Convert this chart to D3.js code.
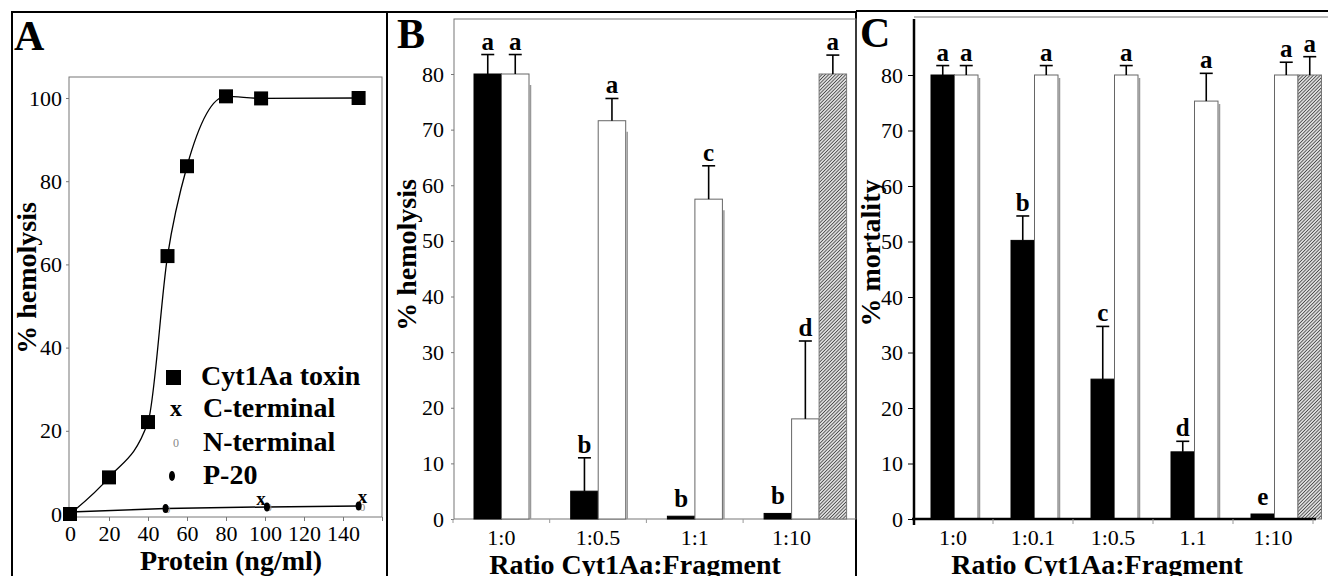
<html>
<body style="margin:0;background:#fff">
<svg width="1328" height="576"></svg>
</body>
<style>
  svg text { font-family: "Liberation Serif", "DejaVu Serif", "Times New Roman", Times, serif !important; fill: #000; }
  .tick text { font-size: 22px; }
  .lbl { font-weight: bold; font-size: 28px; }
  .let { font-weight: bold; font-size: 25px; }
  .panel { font-weight: bold; font-size: 42px; }
</style>
<script src="https://d3js.org/d3.v7.min.js"></script>
<script>
// panel A - hemolysis vs protein
const protein = [0, 20, 40, 50, 60, 80, 98, 148];
const cytToxin = [0, 8.8, 22.1, 62, 83.6, 100.4, 99.9, 100];
const cTermX = [98, 150];
const cTermY = [2.9, 3.4];
const nTermX = [50, 102, 150];
const nTermY = [1.2, 1.6, 1.7];
const p20X = [0, 49, 101, 148];
const p20Y = [0.5, 1.3, 1.7, 1.9];
const legendA = ["Cyt1Aa toxin", "C-terminal", "N-terminal", "P-20"];

// panel B - hemolysis vs ratio
const ratiosB = ["1:0", "1:0.5", "1:1", "1:10"];
const toxinB = [80, 5, 0.5, 1];
const toxinErrB = [3.5, 6, 0, 0];
const toxinLetB = ["a", "b", "b", "b"];
const fragB = [80, 71.6, 57.5, 18];
const fragErrB = [3.5, 4, 6, 14];
const fragLetB = ["a", "a", "c", "d"];
const ctrlB = [null, null, null, 80];
const ctrlErrB = [0, 0, 0, 3.4];
const ctrlLetB = ["", "", "", "a"];

// panel C - mortality vs ratio
const ratiosC = ["1:0", "1:0.1", "1:0.5", "1.1", "1:10"];
const toxinC = [80, 50.2, 25.2, 12.1, 0.9];
const toxinErrC = [1.7, 4.4, 9.5, 1.9, 0];
const toxinLetC = ["a", "b", "c", "d", "e"];
const fragC = [80, 80, 80, 75.3, 80];
const fragErrC = [1.7, 1.7, 1.7, 5, 2.3];
const fragLetC = ["a", "a", "a", "a", "a"];
const ctrlC = [null, null, null, null, 80];
const ctrlErrC = [0, 0, 0, 0, 3.3];
const ctrlLetC = ["", "", "", "", "a"];

var svg = d3.select("svg");

var defs = svg.append("defs");
var pat = defs.append("pattern")
  .attr("id", "hatch")
  .attr("width", 2.4).attr("height", 2.4)
  .attr("patternUnits", "userSpaceOnUse")
  .attr("patternTransform", "rotate(45)");
pat.append("rect").attr("width", 2.4).attr("height", 2.4).attr("fill", "#ddd");
pat.append("line").attr("x1", 0).attr("y1", 0).attr("x2", 0).attr("y2", 2.4)
  .attr("stroke", "#333").attr("stroke-width", 1.4);

// frames
svg.append("line").attr("x1", 12).attr("y1", 12).attr("x2", 856).attr("y2", 12)
  .attr("stroke", "#000").attr("stroke-width", 2);
svg.append("line").attr("x1", 856).attr("y1", 11).attr("x2", 1328).attr("y2", 11)
  .attr("stroke", "#000").attr("stroke-width", 2);
[12, 387, 856].forEach(function (x) {
  svg.append("line").attr("x1", x).attr("y1", 11).attr("x2", x).attr("y2", 576)
    .attr("stroke", "#000").attr("stroke-width", 2);
});

svg.append("text").attr("class", "panel").attr("x", 14).attr("y", 50).text("A");
svg.append("text").attr("class", "panel").attr("x", 397).attr("y", 48).text("B");
svg.append("text").attr("class", "panel").attr("x", 860).attr("y", 47).text("C");

function styleAxis(g, col) {
  g.select(".domain").remove();
  g.selectAll(".tick line").attr("stroke", col);
}

// ---------------- panel A ----------------
var xA = d3.scaleLinear().domain([0, 160]).range([70, 382]);
var yA = d3.scaleLinear().domain([0, 100]).range([514, 98]);

svg.append("rect").attr("x", 69).attr("y", 77).attr("width", 313).attr("height", 440)
  .attr("fill", "none").attr("stroke", "#777").attr("stroke-width", 1);

svg.append("g").attr("transform", "translate(69,0)")
  .call(d3.axisLeft(yA).tickValues(d3.range(0, 101, 20)).tickSize(3).tickPadding(4))
  .call(styleAxis, "#777");

svg.append("g").attr("transform", "translate(0,517)")
  .call(d3.axisBottom(xA).tickValues(d3.range(0, 161, 20)).tickSize(4).tickPadding(4)
    .tickFormat(function (d) { return d === 160 ? "" : d; }))
  .call(styleAxis, "#777");

var cytPts = protein.map(function (p, i) { return [p, cytToxin[i]]; });
svg.append("path")
  .attr("d", d3.line().x(function (d) { return xA(d[0]); }).y(function (d) { return yA(d[1]); })
    .curve(d3.curveMonotoneX)(cytPts))
  .attr("fill", "none").attr("stroke", "#000").attr("stroke-width", 1.3);

var p20Pts = p20X.map(function (p, i) { return [p, p20Y[i]]; });
svg.append("path")
  .attr("d", d3.line().x(function (d) { return xA(d[0]); }).y(function (d) { return yA(d[1]); })(p20Pts))
  .attr("fill", "none").attr("stroke", "#000").attr("stroke-width", 1.5);

svg.selectAll(".cyt").data(cytPts).enter().append("rect")
  .attr("x", function (d) { return xA(d[0]) - 7; })
  .attr("y", function (d) { return yA(d[1]) - 7; })
  .attr("width", 14).attr("height", 14).attr("fill", "#000");

nTermX.forEach(function (p, i) {
  svg.append("text").attr("x", xA(p)).attr("y", yA(nTermY[i]) + 4)
    .attr("text-anchor", "middle").style("font-size", "11px").style("fill", "#888").text("0");
});
svg.selectAll(".p20").data(p20Pts.slice(1)).enter().append("ellipse")
  .attr("cx", function (d) { return xA(d[0]); })
  .attr("cy", function (d) { return yA(d[1]); })
  .attr("rx", 3).attr("ry", 4.5).attr("fill", "#000");
cTermX.forEach(function (p, i) {
  svg.append("text").attr("x", xA(p)).attr("y", yA(cTermY[i]) + 3)
    .attr("text-anchor", "middle").style("font-size", "19px").style("font-weight", "bold").text("x");
});

// legend A
var legY = [377, 409, 443, 476];
svg.append("rect").attr("x", 166).attr("y", legY[0] - 7).attr("width", 15).attr("height", 15).attr("fill", "#000");
svg.append("text").attr("x", 176).attr("y", legY[1] + 7).attr("text-anchor", "middle")
  .style("font-size", "24px").style("font-weight", "bold").text("x");
svg.append("text").attr("x", 176).attr("y", legY[2] + 4).attr("text-anchor", "middle")
  .style("font-size", "12px").style("fill", "#888").text("0");
svg.append("ellipse").attr("cx", 172).attr("cy", legY[3]).attr("rx", 3).attr("ry", 5).attr("fill", "#000");
legendA.forEach(function (t, i) {
  svg.append("text").attr("class", "lbl").attr("x", i === 0 ? 201 : 203).attr("y", legY[i] + 8)
    .text(t);
});

svg.append("text").attr("class", "lbl").attr("transform", "translate(36,278) rotate(-90)")
  .attr("text-anchor", "middle").text("% hemolysis");
svg.append("text").attr("class", "lbl").attr("x", 231).attr("y", 570)
  .attr("text-anchor", "middle").text("Protein (ng/ml)");

// ---------------- bar panels ----------------
function barPanel(opt) {
  var x = d3.scaleBand().domain(opt.cats).range(opt.xr);
  var y = d3.scaleLinear().domain([0, 80]).range(opt.yr);
  var s = d3.scaleBand().domain([0, 1, 2]).range([opt.off, opt.off + 3 * opt.bw]);
  var series = [
    { v: opt.toxin, e: opt.toxinErr, l: opt.toxinLet, fill: "#000", stroke: "#000" },
    { v: opt.frag, e: opt.fragErr, l: opt.fragLet, fill: "#fff", stroke: "#666" },
    { v: opt.ctrl, e: opt.ctrlErr, l: opt.ctrlLet, fill: "url(#hatch)", stroke: "#777" }
  ];
  var g = svg.append("g");
  series.forEach(function (se, si) {
    opt.cats.forEach(function (c, ci) {
      var v = se.v[ci];
      if (v == null) return;
      var bx = x(c) + s(si), bw = s.bandwidth();
      if (si === 1) {
        g.append("line").attr("x1", bx + bw + 1.5).attr("x2", bx + bw + 1.5)
          .attr("y1", y(v) + opt.shadow).attr("y2", y(0))
          .attr("stroke", "#999").attr("stroke-width", 1.5);
      }
      g.append("rect").attr("x", bx).attr("y", y(v))
        .attr("width", bw).attr("height", y(0) - y(v))
        .attr("fill", se.fill).attr("stroke", se.stroke).attr("stroke-width", 1);
      var cx = bx + bw / 2, top = y(v);
      if (se.e[ci] > 0) {
        top = y(v + se.e[ci]);
        g.append("line").attr("x1", cx).attr("x2", cx).attr("y1", y(v)).attr("y2", top)
          .attr("stroke", "#000").attr("stroke-width", 1.6);
        g.append("line").attr("x1", cx - 6.5).attr("x2", cx + 6.5).attr("y1", top).attr("y2", top)
          .attr("stroke", "#000").attr("stroke-width", 1.6);
      }
      if (se.l[ci]) {
        g.append("text").attr("class", "let").attr("x", cx).attr("y", top - (se.e[ci] > 0 ? 5 : 9))
          .attr("text-anchor", "middle").text(se.l[ci]);
      }
    });
  });
  return { x: x, y: y };
}

// panel B
svg.append("rect").attr("x", 454).attr("y", 19).attr("width", 402).attr("height", 500)
  .attr("fill", "none").attr("stroke", "#777").attr("stroke-width", 1);
var pb = barPanel({
  cats: ratiosB, xr: [453, 453 + 4 * 96.7], yr: [519, 74], off: 21, bw: 27.5, shadow: 11,
  toxin: toxinB, toxinErr: toxinErrB, toxinLet: toxinLetB,
  frag: fragB, fragErr: fragErrB, fragLet: fragLetB,
  ctrl: ctrlB, ctrlErr: ctrlErrB, ctrlLet: ctrlLetB
});
svg.append("g").attr("transform", "translate(454,0)")
  .call(d3.axisLeft(pb.y).tickValues(d3.range(0, 81, 10)).tickSize(3).tickPadding(7))
  .call(styleAxis, "#777");
svg.append("g").attr("transform", "translate(0,519)")
  .call(d3.axisBottom(pb.x).tickSize(0).tickPadding(10))
  .call(styleAxis, "#777");
ratiosB.forEach(function (c) {
  svg.append("line").attr("x1", pb.x(c)).attr("x2", pb.x(c)).attr("y1", 519).attr("y2", 523)
    .attr("stroke", "#999");
});
svg.append("text").attr("class", "lbl").attr("transform", "translate(416,255) rotate(-90)")
  .attr("text-anchor", "middle").text("% hemolysis");
svg.append("text").attr("class", "lbl").attr("x", 635).attr("y", 574)
  .attr("text-anchor", "middle").text("Ratio Cyt1Aa:Fragment");

// panel C
svg.append("line").attr("x1", 914).attr("x2", 1328).attr("y1", 17).attr("y2", 17)
  .attr("stroke", "#777").attr("stroke-width", 1);
var pc = barPanel({
  cats: ratiosC, xr: [913, 1313], yr: [519, 75], off: 18, bw: 23.5, shadow: 3,
  toxin: toxinC, toxinErr: toxinErrC, toxinLet: toxinLetC,
  frag: fragC, fragErr: fragErrC, fragLet: fragLetC,
  ctrl: ctrlC, ctrlErr: ctrlErrC, ctrlLet: ctrlLetC
});
svg.append("g").attr("transform", "translate(914,0)")
  .call(d3.axisLeft(pc.y).tickValues(d3.range(0, 81, 10)).tickSize(6).tickPadding(5))
  .call(styleAxis, "#000");
svg.append("line").attr("x1", 914).attr("x2", 914).attr("y1", 19).attr("y2", 525)
  .attr("stroke", "#000").attr("stroke-width", 2.5);
svg.append("line").attr("x1", 912).attr("x2", 1316).attr("y1", 519).attr("y2", 519)
  .attr("stroke", "#000").attr("stroke-width", 2.5);
svg.append("g").attr("transform", "translate(0,519)")
  .call(d3.axisBottom(pc.x).tickSize(0).tickPadding(10))
  .call(styleAxis, "#000");
ratiosC.slice(1).concat([null]).forEach(function (c) {
  var xx = c ? pc.x(c) : pc.x.range()[1];
  svg.append("line").attr("x1", xx).attr("x2", xx).attr("y1", 519).attr("y2", 524)
    .attr("stroke", "#999");
});
svg.append("text").attr("class", "lbl").attr("transform", "translate(880,253) rotate(-90)")
  .attr("text-anchor", "middle").text("% mortality");
svg.append("text").attr("class", "lbl").attr("x", 1097).attr("y", 574)
  .attr("text-anchor", "middle").text("Ratio Cyt1Aa:Fragment");
</script>
</html>
